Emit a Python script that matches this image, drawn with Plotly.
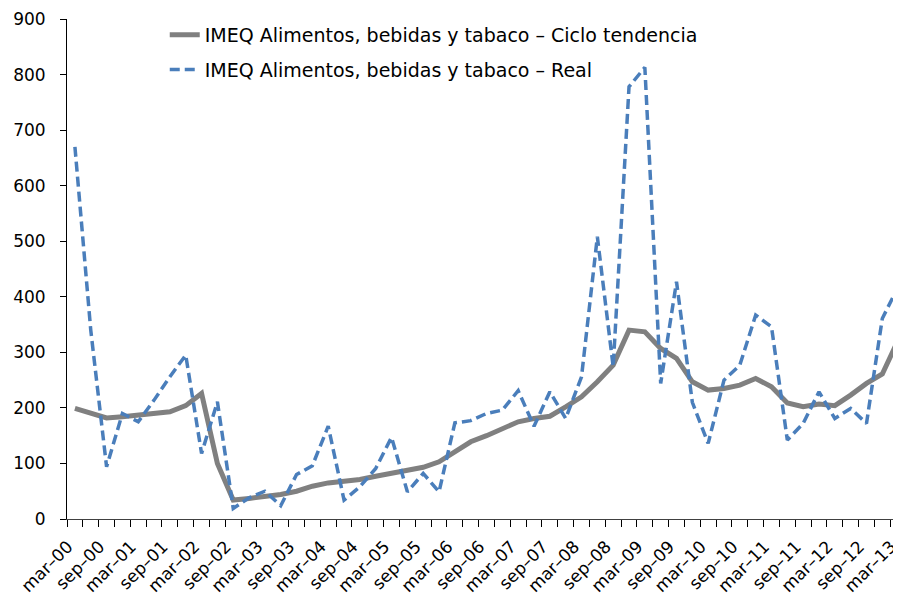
import plotly.graph_objects as go

# Quarterly categories, mar-00 .. mar-13
quarters = [f"{m}–{y:02d}" for y in range(0, 14) for m in ("mar", "jun", "sep", "dec")][:53]
tick_text = [q if q.startswith(("mar", "sep")) else "" for q in quarters]

trend = [199, 190, 182, 184, 187, 189, 193, 204, 226, 100, 34, 37, 40, 44, 50, 59,
         65, 67, 71, 77, 83, 87, 93, 103, 121, 139, 150, 163, 175, 181, 185, 202,
         220, 247, 277, 340, 337, 307, 289, 247, 232, 235, 241, 253, 238, 209, 202,
         207, 204, 223, 244, 261, 322]
real = [670, 340, 94, 190, 175, 214, 256, 295, 118, 211, 19, 38, 50, 24, 80, 96,
        167, 34, 58, 91, 147, 49, 82, 49, 173, 177, 190, 196, 231, 167, 229, 181,
        256, 508, 274, 778, 813, 244, 427, 210, 136, 250, 277, 367, 346, 142, 172,
        229, 181, 199, 172, 361, 418]

y_ticks = list(range(0, 1000, 100))

font = "DejaVu Sans"
x_range = [-0.5, 52.18]

fig = go.Figure()
fig.add_trace(go.Scatter(
    x=quarters, y=trend, mode="lines",
    name="IMEQ Alimentos, bebidas y tabaco – Ciclo tendencia",
    line=dict(color="#808080", width=5),
    legendgroup="a",
))
fig.add_trace(go.Scatter(
    x=quarters, y=real, mode="lines",
    name="IMEQ Alimentos, bebidas y tabaco – Real",
    line=dict(color="#4a7ebb", width=3.5, dash="10px,5px"),
    legendgroup="b",
))

# the page body has an 8px margin, so margins are shifted by 8px
fig.update_layout(
    width=901, height=601,
    margin=dict(l=59, r=8, t=11, b=90, autoexpand=False),
    paper_bgcolor="white", plot_bgcolor="white",
    font=dict(family=font, size=17, color="black"),
    showlegend=True,
    legend=dict(
        x=0.1172, y=1.006, xanchor="left", yanchor="top",
        font=dict(size=19), tracegroupgap=7,
        bgcolor="rgba(0,0,0,0)",
    ),
    xaxis=dict(
        type="category", range=x_range, automargin=False,
        tickmode="array", tickvals=quarters, ticktext=tick_text,
        tickson="boundaries", ticks="outside", ticklen=7, tickcolor="black",
        tickangle=-45, tickfont=dict(size=17),
        ticklabelstandoff=10, ticklabelshift=-7,
        showline=True, linecolor="#404040", linewidth=1,
        showgrid=False, zeroline=False,
    ),
    yaxis=dict(
        range=[0, 900], tickvals=y_ticks, automargin=False,
        ticks="outside", ticklen=6, tickcolor="black", ticklabelstandoff=11,
        showline=True, linecolor="black", linewidth=1,
        showgrid=False, zeroline=False,
    ),
    # inside halves of the crossing tick marks
    xaxis2=dict(
        overlaying="x", anchor="y", range=x_range, automargin=False,
        tickvals=[k - 0.5 for k in range(53)],
        ticks="inside", ticklen=7, tickcolor="black",
        showticklabels=False, showline=False, showgrid=False, zeroline=False,
    ),
    yaxis2=dict(
        overlaying="y", anchor="x", range=[0, 900], tickvals=y_ticks,
        automargin=False,
        ticks="inside", ticklen=6, tickcolor="black",
        showticklabels=False, showline=False, showgrid=False, zeroline=False,
    ),
)

fig.write_html("out.html")
